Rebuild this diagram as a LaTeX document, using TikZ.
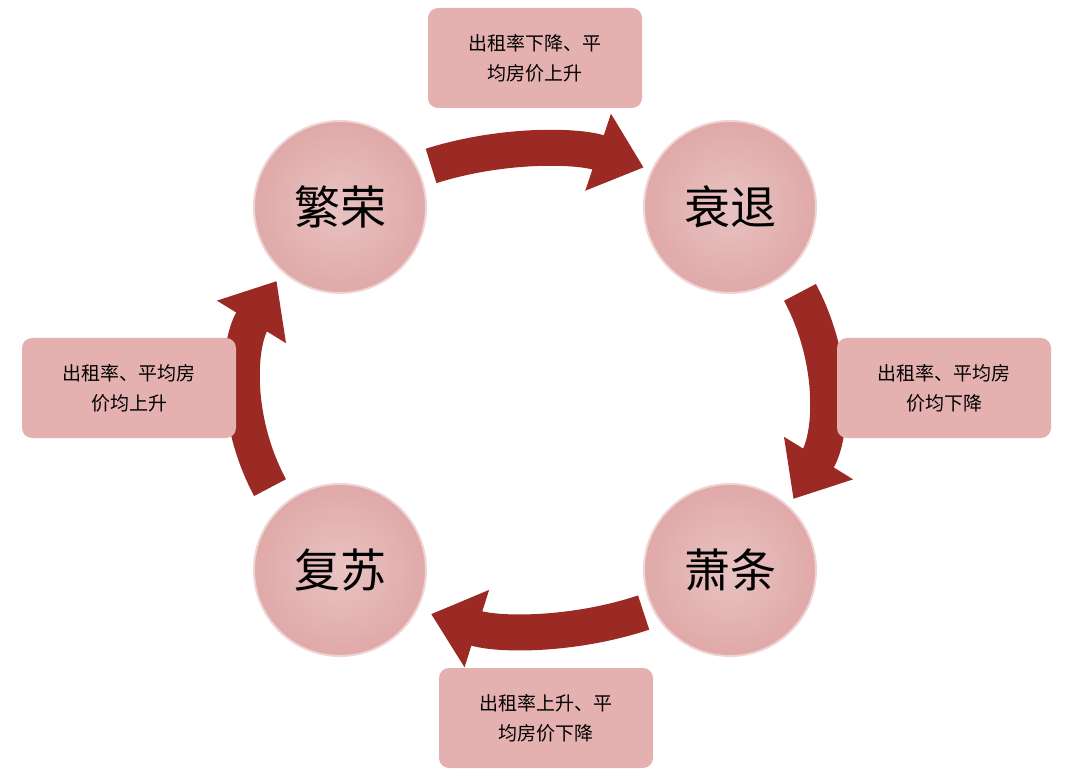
\documentclass[tikz,border=0pt]{standalone}
\usepackage{fontspec}
\newfontfamily\cjk{Noto Sans CJK SC}
\usetikzlibrary{arrows.meta}
\definecolor{ring}{HTML}{9C2A24}
\definecolor{pinkc}{HTML}{DFA9A8}
\definecolor{pinkb}{HTML}{E4B1B0}
\tikzset{
 stage/.style={circle,minimum size=172pt,inner sep=0pt,draw=pinkc!50!white,line width=2pt,
   inner color=pinkc!70!white,outer color=pinkc,font=\cjk\fontsize{46}{50}\selectfont},
 label box/.style={rounded corners=10pt,fill=pinkb,minimum width=214pt,minimum height=100pt,
   align=center,font=\cjk\fontsize{19}{30}\selectfont},
 flow/.style={draw=ring,line width=36pt,-{Triangle[width=78pt,length=48pt]}}
}
\begin{document}
\begin{tikzpicture}[x=1pt,y=-1pt]
\useasboundingbox (0,0) rectangle (1080,778);
\fill[white] (0,0) rectangle (1080,778);
\coordinate (c) at (535,390);
\draw[flow] ([shift={(-111:290 and 240)}]c) arc[start angle=-111,end angle=-68,x radius=290,y radius=240];
\draw[flow] ([shift={(-24:290 and 240)}]c) arc[start angle=-24,end angle=27,x radius=290,y radius=240];
\draw[flow] ([shift={(68:290 and 240)}]c) arc[start angle=68,end angle=111,x radius=290,y radius=240];
\draw[flow] ([shift={(156:290 and 240)}]c) arc[start angle=156,end angle=207,x radius=290,y radius=240];
\node[stage] (fr) at (340,207) {繁荣};
\node[stage] (st) at (730,207) {衰退};
\node[stage] (xt) at (730,570) {萧条};
\node[stage] (fs) at (340,570) {复苏};
\node[label box] (b1) at (535,58) {出租率下降、平\\均房价上升};
\node[label box] (b2) at (944,388) {出租率、平均房\\价均下降};
\node[label box] (b3) at (546,718) {出租率上升、平\\均房价下降};
\node[label box] (b4) at (129,388) {出租率、平均房\\价均上升};
\end{tikzpicture}
\end{document}
